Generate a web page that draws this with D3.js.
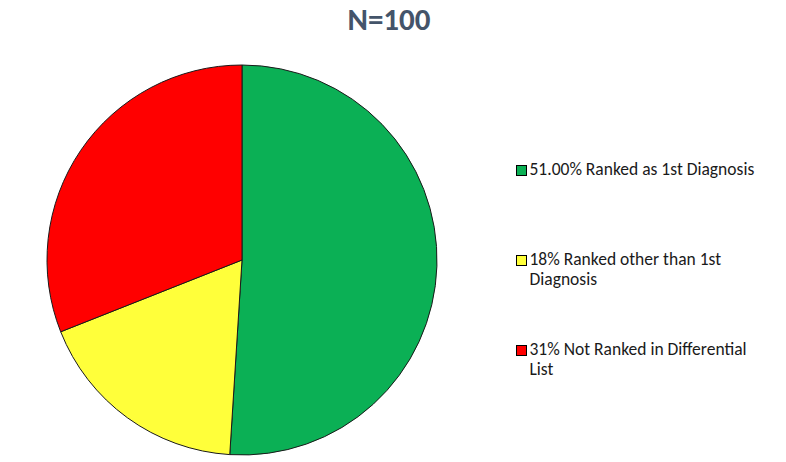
<!DOCTYPE html>
<html>
<head>
<meta charset="utf-8">
<script src="https://cdn.jsdelivr.net/npm/d3@7"></script>
<style>
  body { margin: 0; background: #fff; }
  svg { display: block; }
</style>
</head>
<body>
<script>
// chart data
const categories = ["Ranked as 1st Diagnosis", "Ranked other than 1st Diagnosis", "Not Ranked in Differential List"];
const values = [51, 18, 31];
const legendLines = [
    ["51.00% Ranked as 1st Diagnosis"],
    ["18% Ranked other than 1st", "Diagnosis"],
    ["31% Not Ranked in Differential", "List"]
];
const colors = ["#0bb055", "#ffff3a", "#ff0000"];
const title = "N=100";

const width = 786, height = 462;
const cx = 242, cy = 260, radius = 195;
const font = "Carlito, 'Liberation Sans', Arial, sans-serif";

const svg = d3.select("body").append("svg")
    .attr("width", width)
    .attr("height", height);

svg.append("text")
    .attr("x", 389)
    .attr("y", 30)
    .attr("text-anchor", "middle")
    .style("font-family", font)
    .style("font-size", "31px")
    .style("font-weight", "bold")
    .style("fill", "#44546a")
    .text(title);

const pie = d3.pie().sort(null).value(d => d);
const arc = d3.arc().innerRadius(0).outerRadius(radius);

svg.append("g")
    .attr("transform", `translate(${cx},${cy})`)
    .selectAll("path")
    .data(pie(values))
    .join("path")
    .attr("d", arc)
    .attr("fill", (d, i) => colors[i])
    .attr("stroke", "#1a1a1a")
    .attr("stroke-width", 1);

// legend
const legendY = d3.scaleLinear().domain([0, 1]).range([175, 265]);
const legend = svg.append("g")
    .selectAll("g")
    .data(categories)
    .join("g")
    .attr("transform", (d, i) => `translate(516,${legendY(i)})`);

legend.append("rect")
    .attr("x", 0.5)
    .attr("y", -9.5)
    .attr("width", 10)
    .attr("height", 10)
    .attr("fill", (d, i) => colors[i])
    .attr("stroke", "#000")
    .attr("stroke-width", 1);

legend.append("text")
    .style("font-family", font)
    .style("font-size", "17.5px")
    .style("fill", "#1a1a1a")
    .selectAll("tspan")
    .data((d, i) => legendLines[i])
    .join("tspan")
    .attr("x", 13.5)
    .attr("y", (d, j) => j * 20)
    .text(d => d);
</script>
</body>
</html>
